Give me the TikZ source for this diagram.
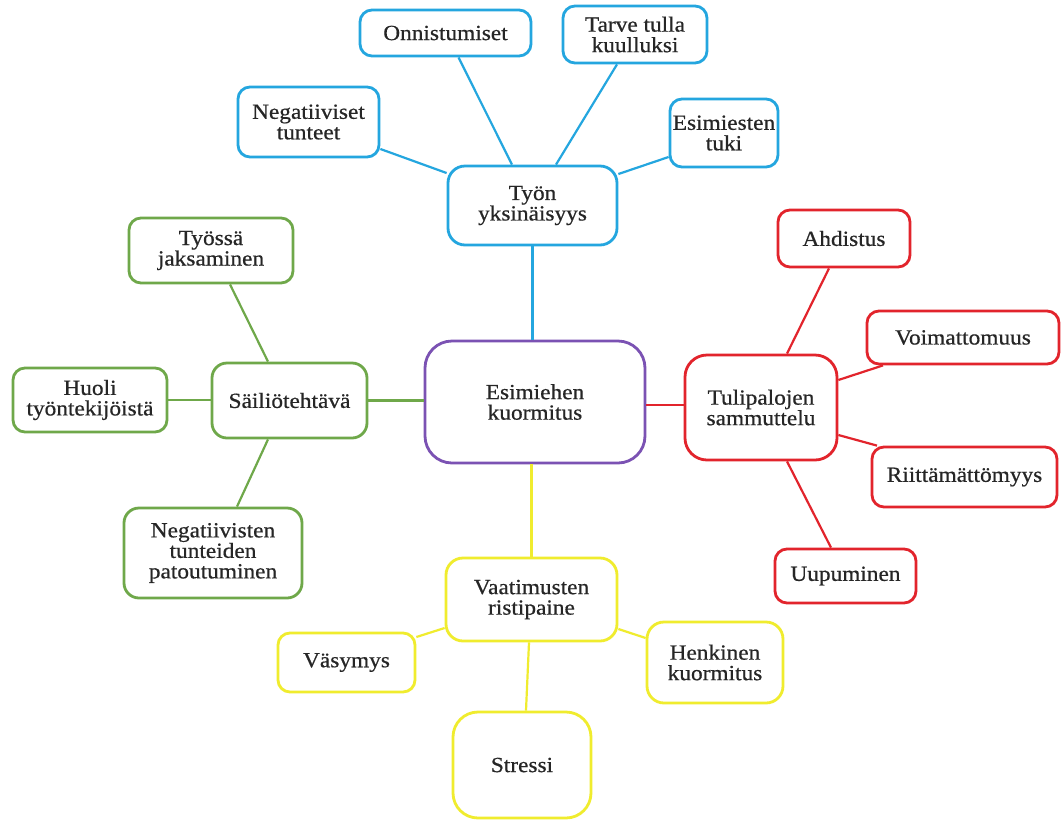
\documentclass[tikz,border=0pt]{standalone}
\usepackage{fontspec}
\setmainfont{Liberation Serif}[FakeStretch=1.08,FakeBold=0.6]
\definecolor{cblue}{HTML}{24A6DF}
\definecolor{cgreen}{HTML}{6FA84A}
\definecolor{cpurple}{HTML}{7B52B3}
\definecolor{cred}{HTML}{E2242C}
\definecolor{cyellow}{HTML}{F0EC2E}
\definecolor{ctext}{HTML}{262626}
\begin{document}
\begin{tikzpicture}[x=1pt,y=-1pt,
  bx/.style={draw=#1, line width=2.8pt, fill=white, rounded corners=12pt, align=center,
    inner sep=0pt, text=ctext, font=\fontsize{21.6}{20.5}\selectfont},
  ln/.style={draw=#1, line width=2.2pt},
]
\fill[white] (0,0) rectangle (1061,823);
\useasboundingbox (0,0) rectangle (1061,823);

% ---- nodes ----
% blue
\node[bx=cblue, minimum width=171pt, minimum height=46pt] (onn) at (445.5,33) {Onnistumiset};
\node[bx=cblue, minimum width=144pt, minimum height=57pt] (tarve) at (635,34.5) {Tarve tulla\\kuulluksi};
\node[bx=cblue, minimum width=141pt, minimum height=70pt] (negt) at (308.5,122) {Negatiiviset\\tunteet};
\node[bx=cblue, minimum width=108pt, minimum height=68pt] (esit) at (724,133) {Esimiesten\\tuki};
\node[bx=cblue, minimum width=169pt, minimum height=79pt, rounded corners=17pt] (tyon) at (532.5,205.5) {Työn\\yksinäisyys};
% green
\node[bx=cgreen, minimum width=164pt, minimum height=65pt] (tyossa) at (211,250.5) {Työssä\\jaksaminen};
\node[bx=cgreen, minimum width=154pt, minimum height=64pt] (huoli) at (90,400) {Huoli\\työntekijöistä};
\node[bx=cgreen, minimum width=155pt, minimum height=75pt, rounded corners=15pt] (sailio) at (289.5,400.5) {Säiliötehtävä};
\node[bx=cgreen, minimum width=178pt, minimum height=90pt, rounded corners=15pt] (negp) at (213,553) {Negatiivisten\\tunteiden\\patoutuminen};
% purple
\node[bx=cpurple, minimum width=220pt, minimum height=122pt, rounded corners=27pt] (kuorm) at (535,402) {Esimiehen\\kuormitus};
% red
\node[bx=cred, minimum width=132pt, minimum height=57pt] (ahd) at (844,238.5) {Ahdistus};
\node[bx=cred, minimum width=192pt, minimum height=53pt] (voim) at (963,337.5) {Voimattomuus};
\node[bx=cred, minimum width=152pt, minimum height=105pt, rounded corners=22pt] (tuli) at (761,407.5) {Tulipalojen\\sammuttelu};
\node[bx=cred, minimum width=185pt, minimum height=60pt] (riit) at (964.5,477) {Riittämättömyys};
\node[bx=cred, minimum width=141pt, minimum height=54pt] (uup) at (845.5,576) {Uupuminen};
% yellow
\node[bx=cyellow, minimum width=171pt, minimum height=83pt, rounded corners=17pt] (vaat) at (531.5,599.5) {Vaatimusten\\ristipaine};
\node[bx=cyellow, minimum width=137pt, minimum height=59pt] (vas) at (346.5,662.5) {Väsymys};
\node[bx=cyellow, minimum width=136pt, minimum height=81pt, rounded corners=17pt] (henk) at (715,662.5) {Henkinen\\kuormitus};
\node[bx=cyellow, minimum width=138pt, minimum height=106pt, rounded corners=25pt] (stress) at (522,765) {Stressi};

% ---- connectors ----
% blue
\draw[ln=cblue] ([xshift=13pt]onn.south) -- ([xshift=-20.5pt]tyon.north);
\draw[ln=cblue] ([xshift=-18pt]tarve.south) -- ([xshift=23.5pt]tyon.north);
\draw[ln=cblue] ([yshift=-27pt]negt.east) -- ([yshift=32.5pt]tyon.west);
\draw[ln=cblue] ([yshift=-24pt]esit.west) -- ([yshift=31.5pt]tyon.east);
\draw[ln=cblue] (tyon.south) -- (tyon.south |- kuorm.north);
% green
\draw[ln=cgreen] ([xshift=19pt]tyossa.south) -- ([xshift=-21.5pt]sailio.north);
\draw[ln=cgreen] (huoli.east) -- (huoli.east -| sailio.west);
\draw[ln=cgreen] ([xshift=-21.5pt]sailio.south) -- ([xshift=24pt]negp.north);
\draw[ln=cgreen] (sailio.east) -- (sailio.east -| kuorm.west);
% red
\draw[ln=cred] ([yshift=2.5pt]tuli.west) -- ([yshift=2.5pt]tuli.west -| kuorm.east);
\draw[ln=cred] ([xshift=-15pt]ahd.south) -- ([xshift=26pt]tuli.north);
\draw[ln=cred] ([xshift=-80pt]voim.south) -- ([yshift=27.5pt]tuli.east);
\draw[ln=cred] ([yshift=-27.5pt]tuli.east) -- ([xshift=-87.5pt]riit.north);
\draw[ln=cred] ([xshift=26pt]tuli.south) -- ([xshift=-14.5pt]uup.north);
% yellow
\draw[ln=cyellow] (vaat.north) -- (vaat.north |- kuorm.south);
\draw[ln=cyellow] ([yshift=-28.5pt]vaat.west) -- ([yshift=25.5pt]vas.east);
\draw[ln=cyellow] ([yshift=-29.5pt]vaat.east) -- ([yshift=24.5pt]henk.west);
\draw[ln=cyellow] ([xshift=-2.5pt]vaat.south) -- ([xshift=4pt]stress.north);
\end{tikzpicture}
\end{document}
